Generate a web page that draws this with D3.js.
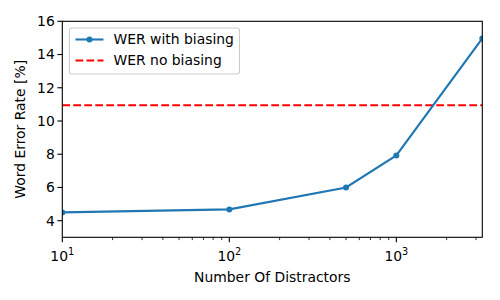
<!DOCTYPE html>
<html>
<head>
<meta charset="utf-8">
<script src="https://cdn.jsdelivr.net/npm/d3@7"></script>
<style>
body { margin: 0; background: #fff; }
text { font-family: "DejaVu Sans", sans-serif; }
</style>
</head>
<body>
<div class="svg"></div>
<script>
// chart data
var distractors = [10, 100, 500, 1000, 3270];
var werBiasing = [4.5, 4.68, 6.0, 7.93, 14.97];
var werNoBiasing = 10.95;
var yTicks = [4, 6, 8, 10, 12, 14, 16];
var xTicks = [10, 100, 1000];
var seriesNames = ["WER with biasing", "WER no biasing"];

var width = 500, height = 300;
// note: "top" is taken by window.top, so use plot* names
var plotLeft = 62.3, plotRight = 482.3, plotTop = 21.3, plotBottom = 237.3;
var lw = 2.08, dash = "7.7,3.3";

var svg = d3.select(".svg").append("svg").attr("width", width).attr("height", height);

var x = d3.scaleLog().domain([10, 3270]).range([plotLeft, plotRight]);
var y = d3.scaleLinear().domain([3, 16]).range([plotBottom, plotTop]);

// clip marks to the axes area like matplotlib does
svg.append("clipPath").attr("id", "plotClip").append("rect")
    .attr("x", plotLeft).attr("y", plotTop)
    .attr("width", plotRight - plotLeft).attr("height", plotBottom - plotTop);
var plot = svg.append("g").attr("clip-path", "url(#plotClip)");

// red baseline
plot.append("line")
    .attr("x1", plotLeft).attr("x2", plotRight)
    .attr("y1", y(werNoBiasing)).attr("y2", y(werNoBiasing))
    .attr("stroke", "#ff0000").attr("stroke-width", lw)
    .attr("stroke-dasharray", dash);

// blue line with markers
var pts = distractors.map(function(d, i) { return [d, werBiasing[i]]; });
var line = d3.line().x(function(d) { return x(d[0]); }).y(function(d) { return y(d[1]); });
plot.append("path").datum(pts).attr("d", line)
    .attr("fill", "none").attr("stroke", "#1f77b4").attr("stroke-width", lw);
plot.selectAll("circle.pt").data(pts).enter().append("circle")
    .attr("class", "pt")
    .attr("cx", function(d) { return x(d[0]); })
    .attr("cy", function(d) { return y(d[1]); })
    .attr("r", 3).attr("fill", "#1f77b4");

// frame
svg.append("rect").attr("x", plotLeft).attr("y", plotTop)
    .attr("width", plotRight - plotLeft).attr("height", plotBottom - plotTop)
    .attr("fill", "none").attr("stroke", "#000").attr("stroke-width", 1.1);

// y axis
var yAxis = svg.append("g");
yTicks.forEach(function(t) {
    yAxis.append("line").attr("x1", plotLeft - 4.9).attr("x2", plotLeft)
        .attr("y1", y(t)).attr("y2", y(t)).attr("stroke", "#000").attr("stroke-width", 1.1);
    yAxis.append("text").attr("x", plotLeft - 7.5).attr("y", y(t))
        .attr("dy", "0.35em").attr("text-anchor", "end")
        .attr("font-size", "13.9px").attr("fill", "#000").text(t);
});

// x axis major ticks
var xAxis = svg.append("g");
xTicks.forEach(function(t) {
    xAxis.append("line").attr("x1", x(t)).attr("x2", x(t))
        .attr("y1", plotBottom).attr("y2", plotBottom + 4.9).attr("stroke", "#000").attr("stroke-width", 1.1);
    var lbl = xAxis.append("text").attr("x", x(t)).attr("y", plotBottom + 23.5)
        .attr("text-anchor", "middle").attr("font-size", "13.9px").attr("fill", "#000");
    lbl.append("tspan").text("10");
    lbl.append("tspan").attr("font-size", "9.7px").attr("dy", "-6").text(Math.round(Math.log10(t)));
});
// minor ticks
var minor = [];
for (var dec = 10; dec <= 1000; dec *= 10) {
    for (var m = 2; m <= 9; m++) {
        if (dec * m <= 3270) minor.push(dec * m);
    }
}
minor.forEach(function(t) {
    xAxis.append("line").attr("x1", x(t)).attr("x2", x(t))
        .attr("y1", plotBottom).attr("y2", plotBottom + 2.8).attr("stroke", "#000").attr("stroke-width", 0.8);
});

// axis titles
svg.append("text").attr("x", (plotLeft + plotRight) / 2).attr("y", 282)
    .attr("text-anchor", "middle").attr("font-size", "13.9px").text("Number Of Distractors");
svg.append("text").attr("transform", "translate(25," + ((plotTop + plotBottom) / 2) + ") rotate(-90)")
    .attr("text-anchor", "middle").attr("font-size", "13.9px").text("Word Error Rate [%]");

// legend
var lg = svg.append("g").attr("transform", "translate(69.5,28)");
lg.append("rect").attr("width", 170).attr("height", 46).attr("rx", 2.5)
    .attr("fill", "#fff").attr("fill-opacity", 0.8).attr("stroke", "#cccccc").attr("stroke-width", 1.1);
lg.append("line").attr("x1", 6).attr("x2", 34).attr("y1", 11.5).attr("y2", 11.5)
    .attr("stroke", "#1f77b4").attr("stroke-width", lw);
lg.append("circle").attr("cx", 20).attr("cy", 11.5).attr("r", 3).attr("fill", "#1f77b4");
lg.append("line").attr("x1", 6).attr("x2", 34).attr("y1", 32.5).attr("y2", 32.5)
    .attr("stroke", "#ff0000").attr("stroke-width", lw).attr("stroke-dasharray", dash);
seriesNames.forEach(function(n, i) {
    lg.append("text").attr("x", 44).attr("y", 11.5 + i * 21).attr("dy", "0.35em")
        .attr("font-size", "13.9px").attr("fill", "#000").text(n);
});
</script>
</body>
</html>
